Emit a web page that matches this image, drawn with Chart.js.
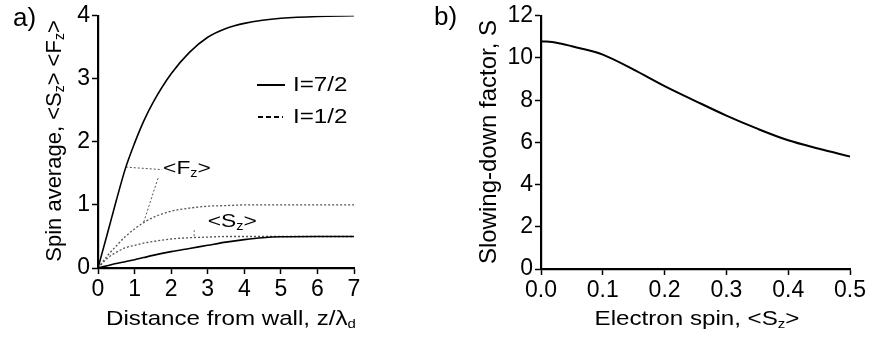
<!DOCTYPE html>
<html>
<head>
<meta charset="utf-8">
<script src="https://cdn.jsdelivr.net/npm/chart.js@4.4.1/dist/chart.umd.min.js"></script>
<style>
  html, body { margin: 0; padding: 0; background: #fff; }
  #wrap { position: relative; width: 871px; height: 344px; }
  .panel { position: absolute; top: 0; height: 344px; }
  #panelA { left: 0; width: 420px; }
  #panelB { left: 420px; width: 451px; }
</style>
</head>
<body>
<div id="wrap">
  <div class="panel" id="panelA"><canvas id="spinChart"></canvas></div>
  <div class="panel" id="panelB"><canvas id="slowChart"></canvas></div>
</div>
<script>
// panel a: spin averages vs distance from wall
const distance = [0, 0.25, 0.5, 0.75, 1, 1.25, 1.5, 2, 2.5, 3, 3.5, 4, 4.5, 5, 6, 7];
const fzSeven = [0, 0.53, 1.07, 1.58, 1.98, 2.33, 2.62, 3.08, 3.42, 3.66, 3.8, 3.88, 3.93, 3.96, 3.99, 4.0];
const szSeven = [0, 0.035, 0.07, 0.1, 0.13, 0.165, 0.2, 0.26, 0.31, 0.36, 0.41, 0.45, 0.48, 0.495, 0.5, 0.5];
const fzHalf = [0, 0.19, 0.35, 0.5, 0.62, 0.72, 0.8, 0.9, 0.95, 0.98, 0.99, 1.0, 1.0, 1.0, 1.0, 1.0];
const szHalf = [0, 0.15, 0.25, 0.32, 0.36, 0.395, 0.42, 0.46, 0.48, 0.49, 0.5, 0.5, 0.5, 0.5, 0.5, 0.5];
const distanceTicks = [0, 1, 2, 3, 4, 5, 6, 7];
const spinTicks = [0, 1, 2, 3, 4];

// leader lines from the labels to the curves
const fzLeaderTopX = [0.76, 1.75];
const fzLeaderTopY = [1.6, 1.56];
const fzLeaderLowX = [1.25, 1.65];
const fzLeaderLowY = [0.73, 1.44];
const szLeaderX = [2.63, 2.63];
const szLeaderY = [0.6, 0.49];

// panel b: slowing-down factor vs electron spin
const electronSpin = [0, 0.025, 0.05, 0.075, 0.1, 0.15, 0.2, 0.25, 0.3, 0.35, 0.4, 0.45, 0.5];
const slowFactor = [10.8, 10.72, 10.56, 10.38, 10.16, 9.45, 8.67, 7.96, 7.27, 6.65, 6.1, 5.7, 5.33];
const spinAxisTicks = [0, 0.1, 0.2, 0.3, 0.4, 0.5];
const factorTicks = [0, 2, 4, 6, 8, 10, 12];

const FONT = "'Liberation Sans', Arial, Helvetica, sans-serif";
const toPoints = (xs, ys) => xs.map((x, i) => ({ x, y: ys[i] }));

// text with subscripts: parts = [[text, isSub], ...]
function drawRich(ctx, parts, x, y, size, opts = {}) {
    ctx.save();
    ctx.translate(x, y);
    if (opts.rotate) ctx.rotate(opts.rotate);
    ctx.scale(opts.stretch || 1, 1);
    ctx.fillStyle = "#000";
    ctx.textBaseline = "middle";
    ctx.textAlign = "left";
    const subSize = Math.round(size * 0.62);
    const widths = parts.map(([t, sub]) => {
        ctx.font = `${sub ? subSize : size}px ${FONT}`;
        return ctx.measureText(t).width;
    });
    const total = widths.reduce((a, b) => a + b, 0);
    let cx = opts.align === "left" ? 0 : -total / 2;
    parts.forEach(([t, sub], i) => {
        ctx.font = `${sub ? subSize : size}px ${FONT}`;
        ctx.fillText(t, cx, sub ? size * 0.24 : 0);
        cx += widths[i];
    });
    ctx.restore();
}

function axis(min, max, tickValues, extra = {}) {
    return Object.assign({
        type: "linear",
        min, max,
        afterBuildTicks: scale => { scale.ticks = tickValues.map(value => ({ value })); },
        border: { display: true, color: "#000", width: 2.2 },
        grid: { display: true, drawOnChartArea: false, drawTicks: true, tickLength: 6, tickColor: "#000", tickWidth: 1.5 },
        ticks: { color: "#000", font: { family: FONT, size: 23 }, padding: 2 }
    }, extra);
}

const solid = (data) => ({ data, borderColor: "#000", borderWidth: 1.6, pointRadius: 0, cubicInterpolationMode: "monotone", fill: false });
const dotted = (data, width = 1.3) => ({ data, borderColor: "#555", borderWidth: width, borderDash: [2, 2], pointRadius: 0, cubicInterpolationMode: "monotone", fill: false });

const spinLabels = {
    id: "spinLabels",
    afterDraw(chart) {
        const { ctx, scales: { x, y } } = chart;
        drawRich(ctx, [["a)", 0]], 13, 19, 26, { align: "left" });
        drawRich(ctx, [["Spin average, <S", 0], ["z", 1], ["> <F", 0], ["z", 1], [">", 0]], 55, 141, 22, { rotate: -Math.PI / 2 });
        drawRich(ctx, [["Distance from wall, z/λ", 0], ["d", 1]], 231, 319, 21, { stretch: 1.15 });
        drawRich(ctx, [["<F", 0], ["z", 1], [">", 0]], x.getPixelForValue(1.78), y.getPixelForValue(1.57), 19, { align: "left", stretch: 1.2 });
        drawRich(ctx, [["<S", 0], ["z", 1], [">", 0]], x.getPixelForValue(3.0), y.getPixelForValue(0.73), 19, { align: "left", stretch: 1.2 });
        // legend
        ctx.save();
        ctx.strokeStyle = "#000";
        ctx.lineWidth = 2;
        ctx.beginPath(); ctx.moveTo(257, 85); ctx.lineTo(285, 85); ctx.stroke();
        ctx.setLineDash([5, 3]);
        ctx.lineWidth = 1.8;
        ctx.beginPath(); ctx.moveTo(258, 117); ctx.lineTo(283, 117); ctx.stroke();
        ctx.restore();
        drawRich(ctx, [["I=7/2", 0]], 293, 85, 21, { align: "left", stretch: 1.15 });
        drawRich(ctx, [["I=1/2", 0]], 293, 117, 21, { align: "left", stretch: 1.15 });
    }
};

new Chart(document.getElementById("spinChart"), {
    type: "line",
    data: {
        datasets: [
            solid(toPoints(distance, fzSeven)),
            solid(toPoints(distance, szSeven)),
            dotted(toPoints(distance, fzHalf)),
            dotted(toPoints(distance, szHalf)),
            dotted(toPoints(fzLeaderTopX, fzLeaderTopY), 1),
            dotted(toPoints(fzLeaderLowX, fzLeaderLowY), 1),
            dotted(toPoints(szLeaderX, szLeaderY), 1)
        ]
    },
    options: {
        responsive: true,
        maintainAspectRatio: false,
        animation: false,
        layout: { padding: { left: 0, top: 11, right: 66, bottom: 0 } },
        plugins: { legend: { display: false }, tooltip: { enabled: false } },
        scales: {
            x: axis(0, 7, distanceTicks, { afterFit: s => { s.height = 76; } }),
            y: axis(0, 4, spinTicks, { afterFit: s => { s.width = 98; } })
        }
    },
    plugins: [spinLabels]
});

const slowLabels = {
    id: "slowLabels",
    afterDraw(chart) {
        const { ctx } = chart;
        drawRich(ctx, [["b)", 0]], 14, 18, 26, { align: "left" });
        drawRich(ctx, [["Slowing-down factor, S", 0]], 69, 142, 24, { rotate: -Math.PI / 2 });
        drawRich(ctx, [["Electron spin, <S", 0], ["z", 1], [">", 0]], 277, 319, 21, { stretch: 1.15 });
    }
};

new Chart(document.getElementById("slowChart"), {
    type: "line",
    data: {
        datasets: [
            Object.assign(solid(toPoints(electronSpin, slowFactor)), { borderWidth: 2 })
        ]
    },
    options: {
        responsive: true,
        maintainAspectRatio: false,
        animation: false,
        layout: { padding: { left: 0, top: 14, right: 21, bottom: 0 } },
        plugins: { legend: { display: false }, tooltip: { enabled: false } },
        scales: {
            x: axis(0, 0.5, spinAxisTicks, {
                afterFit: s => { s.height = 75; },
                ticks: { color: "#000", font: { family: FONT, size: 23 }, padding: 2, callback: v => Number(v).toFixed(1) }
            }),
            y: axis(0, 12, factorTicks, { afterFit: s => { s.width = 121; } })
        }
    },
    plugins: [slowLabels]
});
</script>
</body>
</html>
